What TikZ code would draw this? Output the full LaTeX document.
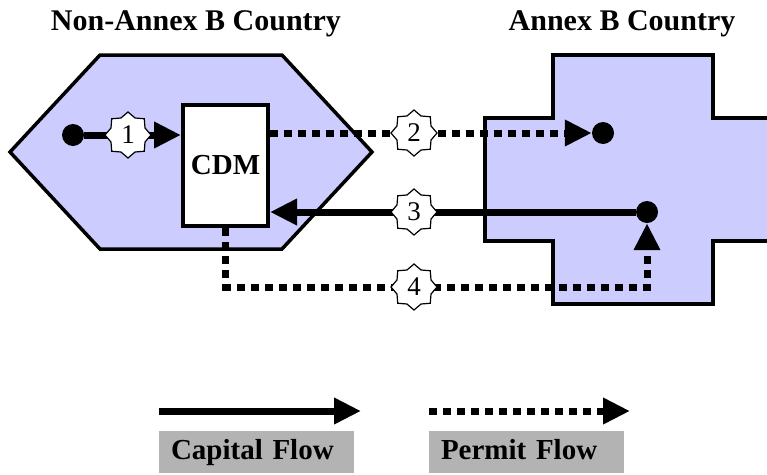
\documentclass[tikz,border=0pt]{standalone}
\usepackage{fontspec}
\setmainfont{Liberation Serif}
\usetikzlibrary{arrows.meta,shapes.geometric}
\definecolor{land}{HTML}{CCCCFF}
\definecolor{leggray}{HTML}{B3B3B3}
\begin{document}
\begin{tikzpicture}[x=1pt,y=-1pt,
  flow/.style={line width=7pt, -{Triangle[length=27pt,width=25pt]}},
  permit/.style={flow, dash pattern=on 8pt off 6pt},
  dotnode/.style={circle, fill=black, minimum size=22pt, inner sep=0pt},
  numstar/.style={star, star points=8, star point ratio=1.25, draw=black, line width=1.2pt, fill=white, minimum size=46pt, inner sep=0pt, font=\fontsize{27}{27}\selectfont},
  region/.style={fill=land, draw=black, line width=3.5pt, line join=miter},
  titletext/.style={font=\fontsize{30}{30}\selectfont\bfseries, inner sep=0pt, anchor=base},
  cdmbox/.style={draw=black, line width=4pt, fill=white, minimum width=85pt, minimum height=121pt, inner sep=0pt, font=\fontsize{29}{29}\selectfont\bfseries},
  legbox/.style={fill=leggray, minimum width=195pt, minimum height=42pt, text width=171pt, align=left, inner xsep=12pt, inner ysep=0pt, text height=20pt, text depth=6pt, font=\fontsize{29}{29}\selectfont\bfseries}
]
\useasboundingbox (0,0) rectangle (767,474);
\begin{scope}
  \clip (0,0) rectangle (767,474);
  % Non-Annex B country (hexagon)
  \draw[region] (100,55) -- (282,55) -- (372,152) -- (282,249) -- (100,249) -- (10,152) -- cycle;
  % Annex B country (cross)
  \draw[region, line width=4pt] (553,55) -- (713,55) -- (713,118) -- (790,118) -- (790,241) -- (713,241) -- (713,304) -- (553,304) -- (553,241) -- (485,241) -- (485,118) -- (553,118) -- cycle;
\end{scope}
% titles
\node[titletext] (tna) at (196,30) {Non-Annex B Country};
\node[titletext] (tab) at (622,30) {Annex B Country};
% CDM box
\node[cdmbox] (cdm) at (225.5,165.5) {CDM};
% dots
\node[dotnode] (d1) at (73,135) {};
\node[dotnode] (d2) at (603,133) {};
\node[dotnode] (d3) at (647,212) {};
\coordinate (c4) at (647,287);
% flows
\draw[flow] (d1) -- (cdm.west |- d1);
\draw[permit] (cdm.east |- d2) -- (d2);
\draw[flow] (d3) -- (cdm.east |- d3);
\draw[permit] (cdm.south) |- (c4) -- (d3);
% numbered stars
\node[numstar] (s1) at (128,135) {1};
\node[numstar] (s2) at (414,133) {2};
\node[numstar] (s3) at (414,212) {3};
\node[numstar] (s4) at (414,287) {4};
% legend
\coordinate (la1) at (159,411);
\coordinate (la2) at (361,411);
\coordinate (lb1) at (429,411);
\coordinate (lb2) at (630,411);
\draw[flow] (la1) -- (la2);
\draw[permit] (lb1) -- (lb2);
\node[legbox] (lcap) at (256.5,452) {Capital Flow};
\node[legbox] (lper) at (526.5,452) {Permit Flow};
\end{tikzpicture}
\end{document}
